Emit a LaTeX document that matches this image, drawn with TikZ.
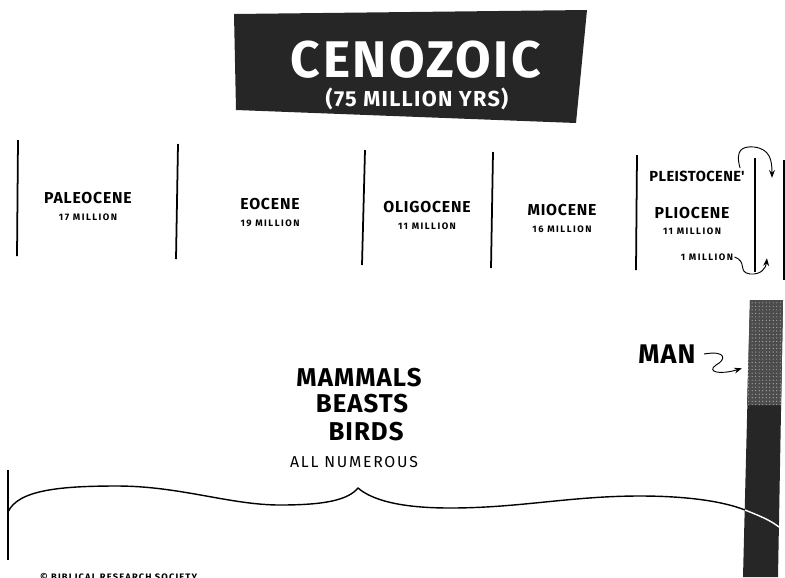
\documentclass[tikz,border=0pt]{standalone}
\usepackage{fontspec}
\setmainfont{Fira Sans}
\usetikzlibrary{arrows.meta,positioning,patterns}

\begin{document}
\begin{tikzpicture}[x=0.03cm,y=-0.03cm,>=Stealth,
   ep/.style={font=\fontsize{13.5}{15}\selectfont\bfseries\addfontfeature{LetterSpace=5},inner sep=1pt},
   mil/.style={font=\fontsize{8}{9}\selectfont\bfseries\addfontfeature{LetterSpace=16},inner sep=1pt},
   big/.style={font=\fontsize{22}{24}\selectfont\bfseries\addfontfeature{LetterSpace=4},inner sep=1pt},
   divider/.style={line width=1.5pt},
   curl/.style={->,thick,shorten >=1pt}]
  \useasboundingbox (0,0) rectangle (785,577);
  \clip (0,0) rectangle (785,577);
  % title banner
  \fill[black!85] (234,14) -- (587,10) -- (576,123) -- (236,110) -- cycle;
  \node[text=white,font=\fontsize{44}{46}\selectfont\bfseries\addfontfeature{LetterSpace=5},inner sep=0pt] (title) at (416,60) {CENOZOIC};
  \node[text=white,font=\fontsize{18.5}{20}\selectfont\bfseries\addfontfeature{LetterSpace=6},inner sep=0pt] (span) at (417,99) {(75 MILLION YRS)};
  % epoch dividers
  \draw[divider] (18,140) -- (17,256);
  \draw[divider] (178,144) -- (176,259);
  \draw[divider] (365,150) -- (362,265);
  \draw[divider] (493,152) -- (491,268);
  \draw[divider] (637,155) -- (636,270);
  \draw[divider] (755,158) -- (755,272);
  \draw[line width=1pt] (784,160) -- (784,280);
  % epochs
  \node[ep] (paleo) at (88,198) {PALEOCENE};
  \node[mil,below=6pt of paleo] (paleoage) {17 MILLION};
  \node[ep] (eo) at (270,204) {EOCENE};
  \node[mil,below=6pt of eo] (eoage) {19 MILLION};
  \node[ep] (oligo) at (427,207) {OLIGOCENE};
  \node[mil,below=6pt of oligo] (oligoage) {11 MILLION};
  \node[ep] (mio) at (562,210) {MIOCENE};
  \node[mil,below=6pt of mio] (mioage) {16 MILLION};
  \node[ep,font=\fontsize{12.5}{14}\selectfont\bfseries\addfontfeature{LetterSpace=3}] (pleisto) at (697,176) {PLEISTOCENE\textquotesingle};
  \node[ep] (plio) at (692,213) {PLIOCENE};
  \node[mil,below=5pt of plio] (plioage) {11 MILLION};
  \node[mil] (pleistoage) at (707,257) {1 MILLION};
  % curled arrows beside the last two epochs
  \coordinate (topend) at (772,179);
  \coordinate (lowend) at (767,257);
  \draw[curl] ([shift={(-6,-8)}]pleisto.east) .. controls (735,150) and (742,146) .. (754,147)
     .. controls (770,149) and (772,160) .. (topend);
  \draw[curl] (pleistoage.east) .. controls (748,262) and (737,272) .. (750,274)
     .. controls (761,275) and (766,268) .. (lowend);
  % man column
  \fill[black!85] (750,300) -- (783,300) -- (778,577) -- (743,577) -- cycle;
  \fill[black!70] (750,300) -- (783,300) -- (781,405) -- (747,405) -- cycle;
  \fill[pattern=dots,pattern color=white!70!black] (750,300) -- (783,300) -- (781,405) -- (747,405) -- cycle;
  \node[big,font=\fontsize{23}{25}\selectfont\bfseries\addfontfeature{LetterSpace=4}] (man) at (667,354) {MAN};
  \coordinate (manpt) at (743,368);
  \draw[curl] ([xshift=6pt]man.east) .. controls (727,350) and (726,360) .. (716,365)
     .. controls (706,372) and (720,375) .. (manpt);
  % the numerous ones
  \node[big] (mammals) at (359,378) {MAMMALS};
  \node[big] (beasts) at (362,404) {BEASTS};
  \node[big] (birds) at (366,432) {BIRDS};
  \node[font=\fontsize{13.5}{15}\selectfont\addfontfeature{LetterSpace=11},inner sep=1pt] (all) at (354,462) {ALL NUMEROUS};
  % brace over the whole era
  \coordinate (tip) at (358,488);
  \draw[line width=1pt] (8,470) -- (8,560);
  \draw[line width=1.2pt] (8,512) .. controls (18,490) and (60,486) .. (117,486)
     .. controls (180,486) and (230,505) .. (280,505) .. controls (325,505) and (348,500) .. (tip)
     .. controls (372,500) and (400,508) .. (450,508) .. controls (520,508) and (570,496) .. (640,496)
     .. controls (690,496) and (725,502) .. (745,510);
  \draw[white,line width=1.2pt] (745,510) .. controls (760,516) and (770,520) .. (779,527);
  % credit line, cut by the page edge
  \node[font=\fontsize{8}{9}\selectfont\bfseries\addfontfeature{LetterSpace=12},anchor=north west,inner sep=0pt] (credit) at (40,573) {\copyright\ BIBLICAL RESEARCH SOCIETY};
\end{tikzpicture}
\end{document}
